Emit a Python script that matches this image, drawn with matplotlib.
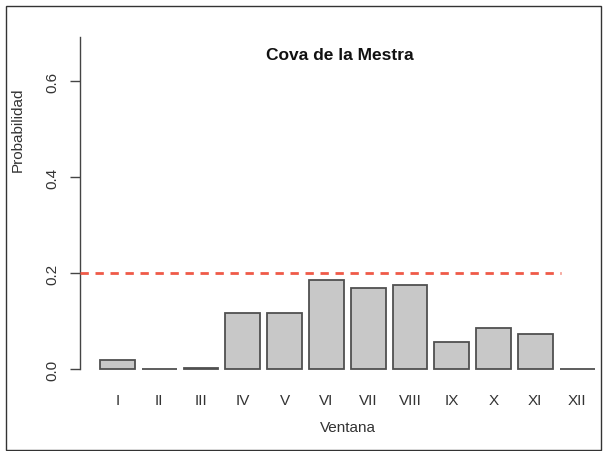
import matplotlib
matplotlib.use("Agg")
import matplotlib.pyplot as plt
from matplotlib.patches import Rectangle

# data
ventanas = ["I", "II", "III", "IV", "V", "VI", "VII", "VIII", "IX", "X", "XI", "XII"]
probabilidad = [0.019, 0.0, 0.002, 0.116, 0.116, 0.185, 0.169, 0.175, 0.056, 0.085, 0.072, 0.0]
umbral = 0.2
yticks = [0.0, 0.2, 0.4, 0.6]

plt.rcParams['font.family'] = ['Liberation Sans', 'DejaVu Sans']

W, H = 606, 452
fig = plt.figure(figsize=(W / 100, H / 100), dpi=100)

# axes in pixel terms (R-like barplot region)
left, right, top, bottom = 80, 601, 20, 383
ax = fig.add_axes([left / W, 1 - bottom / H, (right - left) / W, (bottom - top) / H])

# R barplot positions: width 1, space 0.2
pos = [0.7 + 1.2 * i for i in range(len(ventanas))]
ax.bar(pos, probabilidad, width=1.0, color="#c8c8c8", edgecolor="#505050", linewidth=1.3)

xmin = -0.373
xmax = xmin + (right - left) / 34.83
ax.set_xlim(xmin, xmax)
ax.set_ylim(-0.027, 0.729)

# threshold line
ax.plot([xmin, pos[-1] - 0.45], [umbral, umbral], color="#ef5a48", lw=2,
        linestyle=(0, (3.0, 2.4)), clip_on=False, zorder=3)

for s in ["top", "right", "bottom"]:
    ax.spines[s].set_visible(False)
ax.spines["left"].set_bounds(0, 0.692)
ax.spines["left"].set_color("#444444")
ax.spines["left"].set_linewidth(1.0)

ax.set_yticks(yticks)
ax.set_yticklabels([f"{t:.1f}" for t in yticks], rotation=90, va="center")
ax.tick_params(axis="y", length=7, width=1.0, color="#444444", pad=8,
               labelsize=11, labelcolor="#333333")

ax.set_xticks(pos)
ax.set_xticklabels(ventanas)
ax.tick_params(axis="x", length=0, pad=8, labelsize=11, labelcolor="#333333")

fig.text(340 / W, 1 - 55 / H, "Cova de la Mestra", ha="center", va="center",
         fontsize=12.5, fontweight="bold", color="#111111")
fig.text(348 / W, 1 - 428 / H, "Ventana", ha="center", va="center",
         fontsize=11, color="#333333")
fig.text(18 / W, 1 - 130 / H, "Probabilidad", ha="center", va="center",
         rotation=90, fontsize=11, color="#333333")

# frame around the figure
fig.patches.append(Rectangle((6 / W, 1 - 451 / H), (601 - 6) / W, (451 - 7) / H,
                             transform=fig.transFigure, fill=False,
                             edgecolor="#333333", linewidth=1.0))

fig.savefig("out.png", dpi=100)
